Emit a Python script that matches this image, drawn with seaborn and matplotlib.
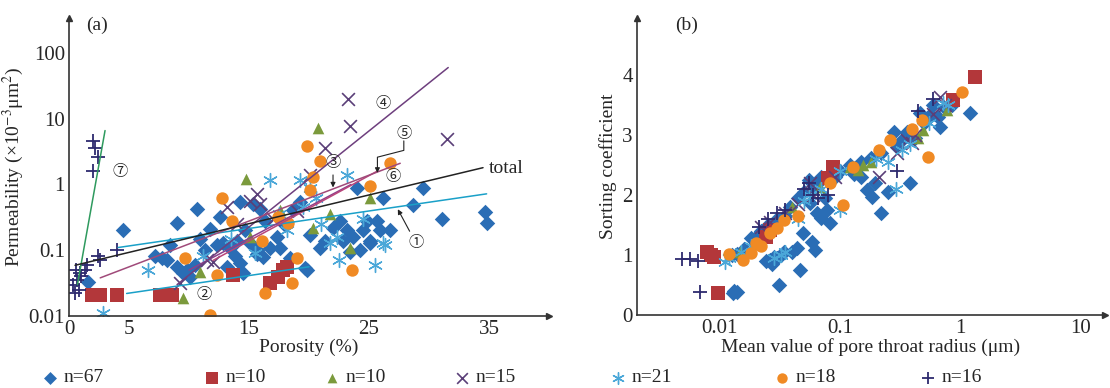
import matplotlib
matplotlib.use("Agg")
import matplotlib.pyplot as plt
import seaborn as sns
from matplotlib.ticker import NullLocator

# ---------------- panel (a): porosity (%) vs permeability ----------------
a_blue_por = [4.5, 9.0, 10.7, 8.4, 7.75, 8.2, 9.0, 9.5, 10.1, 9.8, 12.6, 14.25, 15.3, 15.9, 12.3,
              12.8, 13.4, 14.0, 13.2, 14.25, 14.5, 15.1, 15.7, 16.2, 16.75, 17.3, 17.6, 19.25, 19.8,
              20.9, 22.0, 22.6, 23.2, 22.8, 23.7, 24.0, 24.8, 25.7, 25.9, 25.1, 24.5, 26.2, 1.6,
              29.5, 28.7, 31.1, 34.7, 34.8, 15.7, 19.7, 25.1, 18.7, 11.75, 10.9, 14.7, 16.3, 18.0,
              20.1, 21.3, 10.5, 11.3, 13.8, 23.4, 24.25, 26.75, 18.4, 7.2]
a_blue_k = [0.20, 0.26, 0.42, 0.12, 0.076, 0.071, 0.055, 0.045, 0.039, 0.050, 0.32, 0.54, 0.51, 0.42,
            0.12, 0.13, 0.11, 0.14, 0.055, 0.063, 0.045, 0.13, 0.10, 0.078, 0.11, 0.16, 0.11, 0.54,
            0.050, 0.11, 0.22, 0.28, 0.20, 0.14, 0.16, 0.87, 0.28, 0.28, 0.20, 0.13, 0.20, 0.63,
            0.033, 0.89, 0.48, 0.30, 0.38, 0.26, 0.089, 0.054, 0.14, 0.41, 0.21, 0.15, 0.20, 0.28,
            0.24, 0.17, 0.14, 0.059, 0.10, 0.083, 0.093, 0.10, 0.20, 0.076, 0.083]
a_red_por = [1.9, 2.6, 4.0, 7.6, 8.6, 13.7, 16.75, 17.4, 17.8, 18.2]
a_red_k = [0.021, 0.021, 0.021, 0.021, 0.021, 0.042, 0.032, 0.039, 0.050, 0.056]
a_green_por = [14.75, 10.9, 9.5, 21.75, 20.3, 23.4, 25.1, 17.6, 15.1, 20.75]
a_green_k = [1.23, 0.047, 0.019, 0.36, 0.22, 0.11, 0.62, 0.41, 0.16, 7.1]
a_purple_por = [23.25, 23.4, 31.5, 21.3, 20.1, 15.9, 13.2, 19.0, 11.5, 9.25, 12.0, 15.1, 15.7, 14.0, 17.0]
a_purple_k = [20, 7.8, 5.0, 3.6, 1.37, 0.51, 0.45, 0.40, 0.071, 0.032, 0.066, 0.57, 0.72, 0.25, 0.30]
a_cyan_por = [16.75, 19.25, 23.2, 6.6, 26.3, 21.75, 11.2, 20.1, 20.6, 2.8, 22.3, 26.2, 17.5, 18.2,
              21.0, 24.5, 13.5, 15.5, 22.5, 25.5, 19.5]
a_cyan_k = [1.15, 1.15, 1.37, 0.050, 0.12, 0.13, 0.083, 0.89, 0.63, 0.011, 0.16, 0.13, 0.35, 0.20,
            0.25, 0.30, 0.15, 0.09, 0.07, 0.06, 0.45]
a_orange_por = [19.8, 20.9, 26.75, 20.3, 20.1, 25.1, 12.75, 13.6, 17.4, 18.25, 16.1, 9.7, 12.3,
                19.0, 18.6, 16.3, 23.6, 11.75]
a_orange_k = [3.9, 2.3, 2.1, 1.3, 0.81, 0.95, 0.63, 0.28, 0.32, 0.26, 0.14, 0.076, 0.042, 0.076,
              0.032, 0.022, 0.050, 0.0105]
a_plus_por = [2.0, 2.2, 2.0, 2.4, 0.5, 0.67, 0.92, 1.33, 1.5, 2.4, 4.0, 0.3, 0.8, 1.0, 0.6, 2.6]
a_plus_k = [4.6, 3.6, 1.6, 2.6, 0.022, 0.035, 0.045, 0.050, 0.059, 0.083, 0.10, 0.03, 0.025, 0.04,
            0.05, 0.07]

# fitted trend lines (end points)
fit_names = ["①", "②", "③", "④", "⑤", "⑥", "⑦", "total"]
fit_por = [[4.1, 34.8], [4.8, 20.0], [10.0, 23.5], [9.0, 31.6], [12.0, 25.7], [2.6, 27.6],
           [0.7, 3.0], [0.5, 34.5]]
fit_k = [[0.11, 0.72], [0.022, 0.056], [0.05, 1.0], [0.03, 60], [0.07, 1.6], [0.038, 2.1],
         [0.03, 6.6], [0.059, 1.8]]
fit_colors = ["#1aa0c8", "#1aa0c8", "#8e3f8b", "#6e3f7e", "#b8457a", "#a04a7a", "#2e9a5e", "#222222"]

# ---------------- panel (b): mean pore throat radius vs sorting ----------------
b_blue_r = [0.0128, 0.0138, 0.0132, 0.031, 0.046, 0.024, 0.026, 0.028, 0.030, 0.034, 0.032, 0.027,
            0.044, 0.049, 0.059, 0.062, 0.040, 0.056, 0.064, 0.078, 0.083, 0.070, 0.168, 0.186,
            0.195, 0.25, 0.38, 0.22, 0.15,
            0.0125, 0.014, 0.016, 0.018, 0.02, 0.022, 0.025, 0.03, 0.038, 0.045, 0.05, 0.055, 0.06,
            0.065, 0.07, 0.1, 0.12, 0.15, 0.18, 0.22, 0.28, 0.32, 0.36, 0.46, 0.5, 0.56, 0.65, 0.68,
            0.75, 0.85, 1.22, 0.42, 0.3, 0.13, 0.09, 0.075, 0.035, 0.6]
b_blue_s = [0.37, 0.38, 0.40, 0.50, 0.75, 0.90, 0.92, 0.97, 0.95, 1.05, 1.0, 0.85, 1.12, 1.37, 1.22,
            1.08, 1.05, 1.87, 1.70, 1.75, 1.53, 1.62, 2.08, 1.97, 2.20, 2.05, 2.20, 1.70, 2.3,
            1.0, 1.02, 1.1, 1.28, 1.3, 1.4, 1.5, 1.6, 1.8, 1.95, 2.05, 2.25, 2.1, 2.2, 2.3, 2.4, 2.5,
            2.55, 2.62, 2.7, 3.05, 2.9, 3.05, 3.37, 3.2, 3.33, 3.3, 3.13, 3.45, 3.5, 3.37, 2.95, 2.8,
            2.35, 2.3, 1.95, 1.65, 3.5]
b_red_r = [0.0078, 0.009, 0.0096, 0.0085, 0.026, 0.024, 0.08, 0.087, 0.87, 1.33]
b_red_s = [1.05, 0.97, 0.37, 1.0, 1.42, 1.3, 2.28, 2.47, 3.58, 3.97]
b_green_r = [0.12, 0.155, 0.18, 0.49, 0.04, 0.068, 0.0147, 0.78, 0.14, 0.45]
b_green_s = [2.47, 2.5, 2.55, 3.08, 1.8, 2.13, 1.05, 3.42, 2.42, 2.95]
b_purple_r = [0.022, 0.026, 0.035, 0.045, 0.056, 0.06, 0.09, 0.21, 0.36, 0.40, 0.42, 0.68, 0.75, 0.3, 0.6]
b_purple_s = [1.47, 1.55, 1.7, 1.85, 2.2, 2.0, 2.3, 2.3, 2.92, 2.87, 3.0, 3.63, 3.5, 2.7, 3.35]
b_cyan_r = [0.011, 0.012, 0.015, 0.018, 0.028, 0.032, 0.035, 0.045, 0.05, 0.055, 0.07, 0.1, 0.2,
            0.25, 0.29, 0.33, 0.38, 0.55, 0.72, 0.8, 0.1]
b_cyan_s = [0.88, 0.95, 1.05, 1.15, 0.95, 1.0, 1.05, 1.6, 1.9, 2.0, 2.1, 2.4, 2.6, 2.55, 2.1, 2.75,
            2.85, 3.2, 3.53, 3.5, 1.75]
b_orange_r = [1.04, 0.48, 0.54, 0.26, 0.21, 0.128, 0.106, 0.083, 0.034, 0.026, 0.020, 0.018,
              0.0155, 0.012, 0.022, 0.03, 0.045, 0.4]
b_orange_s = [3.72, 3.25, 2.63, 2.92, 2.75, 2.47, 1.83, 2.2, 1.58, 1.37, 1.2, 1.03, 0.92, 1.02,
              1.15, 1.45, 1.65, 3.1]
b_plus_r = [0.0048, 0.0056, 0.0066, 0.0068, 0.021, 0.025, 0.03, 0.035, 0.05, 0.055, 0.06, 0.065,
            0.08, 0.3, 0.45, 0.6]
b_plus_s = [0.93, 0.93, 0.9, 0.38, 1.47, 1.6, 1.7, 1.75, 2.1, 2.2, 2.0, 1.95, 2.0, 2.4, 3.4, 3.6]

group_labels = ["n=67", "n=10", "n=10", "n=15", "n=21", "n=18", "n=16"]

# marker styles for the seven sample groups
styles = [
    dict(marker="D", color="#2a6db5", s=62, linewidth=0),
    dict(marker="s", color="#b3373a", s=90, linewidth=0),
    dict(marker="^", color="#7b9a3c", s=70, linewidth=0),
    dict(marker="x", color="#5b3f78", s=85, linewidth=1.2),
    dict(marker=(6, 2, 0), color="#4aa7d8", s=100, linewidth=1.0),
    dict(marker="o", color="#f08a24", s=80, linewidth=0),
    dict(marker="+", color="#2d2a6e", s=115, linewidth=1.3),
]

sns.set_style("white")
plt.rcParams["font.family"] = ["Liberation Serif", "Noto Sans CJK SC", "DejaVu Sans"]
plt.rcParams["mathtext.fontset"] = "stix"
FS = 14

fig = plt.figure(figsize=(11.1, 3.88), dpi=100)
ax1 = fig.add_axes([0.0622, 0.1856, 0.4324, 0.768])
ax2 = fig.add_axes([0.5739, 0.1880, 0.4216, 0.7656])

a_sets = [(a_blue_por, a_blue_k), (a_red_por, a_red_k), (a_green_por, a_green_k),
          (a_purple_por, a_purple_k), (a_cyan_por, a_cyan_k), (a_orange_por, a_orange_k),
          (a_plus_por, a_plus_k)]
b_sets = [(b_blue_r, b_blue_s), (b_red_r, b_red_s), (b_green_r, b_green_s),
          (b_purple_r, b_purple_s), (b_cyan_r, b_cyan_s), (b_orange_r, b_orange_s),
          (b_plus_r, b_plus_s)]

for (x, y), st in zip(a_sets, styles):
    sns.scatterplot(x=x, y=y, ax=ax1, zorder=2, legend=False, **st)
for (x, y), st in zip(b_sets, styles):
    sns.scatterplot(x=x, y=y, ax=ax2, zorder=2, legend=False, **st)

for xs, ys, c in zip(fit_por, fit_k, fit_colors):
    ax1.plot(xs, ys, color=c, lw=1.1, zorder=3)

# ----- axes formatting -----
for ax in (ax1, ax2):
    sns.despine(ax=ax)
    for sp in ("left", "bottom"):
        ax.spines[sp].set_linewidth(1.2)
        ax.spines[sp].set_color("#333333")
    ax.tick_params(direction="in", length=5, width=1, labelsize=FS + 1, color="#333333", pad=3)
    ax.plot(1, 0, ">", color="#333333", ms=5, transform=ax.transAxes, clip_on=False)
    ax.plot(0, 1, "^", color="#333333", ms=5, transform=ax.transAxes, clip_on=False)

ax1.set_yscale("log")
ax1.set_xlim(0, 40)
ax1.set_ylim(0.01, 340)
ax1.set_xticks([0, 5, 10, 15, 20, 25, 30, 35])
ax1.set_xticklabels(["0", "5", "", "15", "", "25", "", "35"])
ax1.set_yticks([0.01, 0.1, 1, 10, 100])
ax1.set_yticklabels(["0.01", "0.1", "1", "10", "100"])
ax1.yaxis.set_minor_locator(NullLocator())
ax1.set_xlabel("Porosity (%)", fontsize=FS, labelpad=0)
ax1.set_ylabel("Permeability (×10$^{-3}$μm$^{2}$)", fontsize=FS, labelpad=2)
ax1.text(1.4, 265, "(a)", fontsize=FS, va="center")

ax2.set_xscale("log")
ax2.set_xlim(0.00204, 16.1)
ax2.set_ylim(0, 4.95)
ax2.set_xticks([0.01, 0.1, 1, 10])
ax2.set_xticklabels(["0.01", "0.1", "1", "10"])
ax2.set_yticks([0, 1, 2, 3, 4])
ax2.xaxis.set_minor_locator(NullLocator())
ax2.set_xlabel("Mean value of pore throat radius (μm)", fontsize=FS, labelpad=0)
ax2.set_ylabel("Sorting coefficient", fontsize=FS, labelpad=4)
ax2.text(0.0042, 4.83, "(b)", fontsize=FS, va="center")

# ----- line labels -----
cfs = 11
arrow = dict(arrowstyle="-|>", color="#222222", lw=0.8, mutation_scale=7, shrinkA=1, shrinkB=0)
ax1.text(3.6, 1.55, "⑦", fontsize=cfs, va="center", ha="left")
ax1.text(10.6, 0.021, "②", fontsize=cfs, va="center", ha="left")
ax1.text(26.2, 17, "④", fontsize=cfs, va="center", ha="center")
ax1.text(27.0, 1.3, "⑥", fontsize=cfs, va="center", ha="center")
ax1.text(35.0, 1.75, "total", fontsize=FS, va="center", ha="left")
ax1.annotate("①", xy=(27.4, 0.42), xytext=(28.9, 0.13), fontsize=cfs, ha="center", va="center",
             arrowprops=arrow)
ax1.annotate("③", xy=(22.0, 0.9), xytext=(22.0, 2.1), fontsize=cfs, ha="center", va="center",
             arrowprops=arrow)
ax1.text(27.9, 5.9, "⑤", fontsize=cfs, va="center", ha="center")
ax1.plot([27.9, 27.9, 25.7, 25.7], [4.6, 3.3, 2.6, 2.2], color="#222222", lw=0.8)
ax1.annotate("", xy=(25.7, 1.5), xytext=(25.7, 2.3), arrowprops=arrow)

# ----- legend row -----
lax = fig.add_axes([0, 0, 1, 0.06])
lax.set_xlim(0, 1110)
lax.set_ylim(0, 1)
lax.axis("off")
leg_x = [50, 212, 332, 462, 618, 782, 928]
for xm, st, lab in zip(leg_x, styles, group_labels):
    lax.scatter([xm], [0.45], marker=st["marker"], color=st["color"], s=st["s"] * 0.7,
                linewidths=st["linewidth"], clip_on=False)
    lax.text(xm + 14, 0.45, lab, fontsize=FS, va="center", ha="left")

fig.savefig("out.png", dpi=100)
